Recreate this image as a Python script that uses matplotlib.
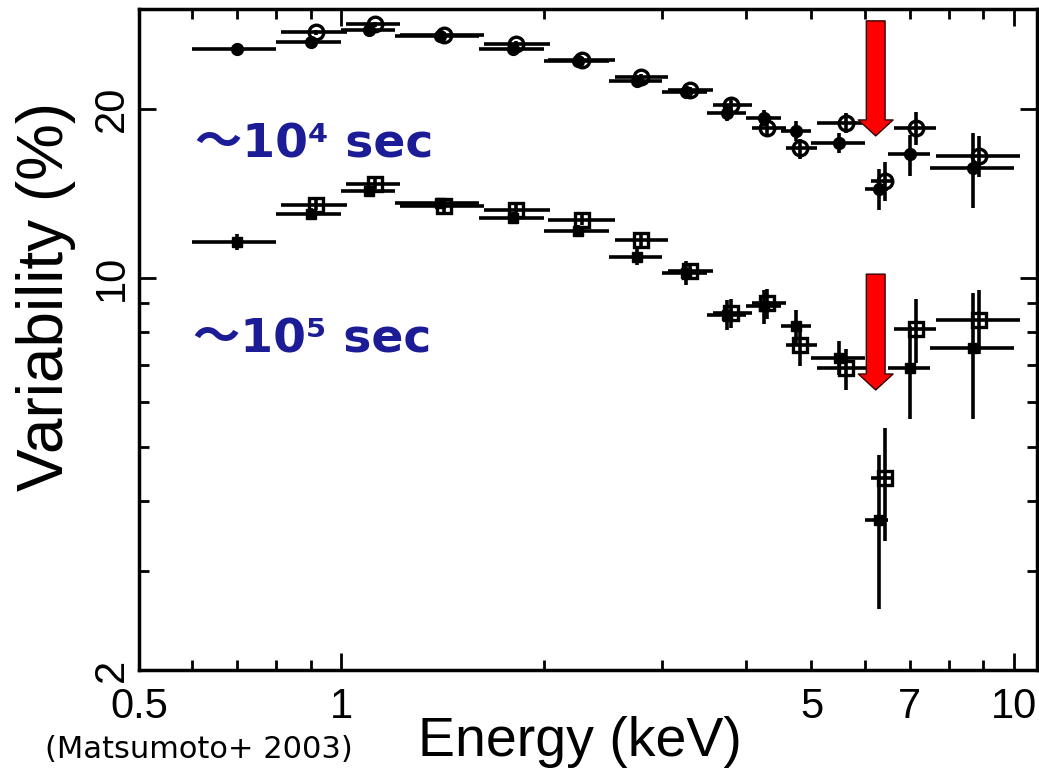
import matplotlib
matplotlib.use("Agg")
import matplotlib.pyplot as plt

# energy bins (keV) for the filled points
e_mid = [0.7, 0.9, 1.1, 1.4, 1.8, 2.25, 2.75, 3.25, 3.75, 4.25, 4.75, 5.5, 6.3, 7.0, 8.7]
e_lo = [0.6, 0.8, 1.0, 1.2, 1.6, 2.0, 2.5, 3.0, 3.5, 4.0, 4.5, 5.0, 6.0, 6.5, 7.5]
e_hi = [0.8, 1.0, 1.2, 1.6, 2.0, 2.5, 3.0, 3.5, 4.0, 4.5, 5.0, 6.0, 6.5, 7.5, 10.0]

# energy bins for the open points (slightly shifted, no 0.7 keV bin)
o_mid = [0.915, 1.12, 1.42, 1.82, 2.28, 2.79, 3.30, 3.80, 4.30, 4.80, 5.62, 6.43, 7.15, 8.87]
o_lo = [0.814, 1.014, 1.22, 1.63, 2.03, 2.55, 3.06, 3.57, 4.08, 4.59, 5.10, 6.12, 6.63, 7.65]
o_hi = [1.02, 1.22, 1.63, 2.04, 2.55, 3.06, 3.57, 4.08, 4.59, 5.10, 6.12, 6.63, 7.65, 10.2]

# ~1e4 sec variability (%)
var4_fill = [25.6, 26.3, 27.7, 27.0, 25.6, 24.3, 22.4, 21.4, 19.7, 19.3, 18.3, 17.4, 14.4, 16.6, 15.7]
err4_fill = [0.3, 0.3, 0.3, 0.3, 0.3, 0.3, 0.3, 0.35, 0.65, 0.64, 0.76, 0.72, 1.2, 1.4, 2.4]
var4_open = [27.4, 28.3, 27.1, 26.1, 24.4, 22.8, 21.6, 20.3, 18.5, 17.0, 18.9, 14.9, 18.5, 16.5]
err4_open = [0.3, 0.3, 0.3, 0.3, 0.3, 0.3, 0.3, 0.68, 0.7, 0.7, 0.8, 1.2, 1.25, 1.4]

# ~1e5 sec variability (%)
var5_fill = [11.6, 13.0, 14.3, 13.6, 12.8, 12.1, 10.9, 10.2, 8.6, 8.9, 8.2, 7.2, 3.7, 6.9, 7.5]
err5_fill = [0.38, 0.3, 0.3, 0.3, 0.3, 0.3, 0.36, 0.5, 0.53, 0.62, 0.57, 0.5, 1.13, 1.3, 1.9]
var5_open = [13.5, 14.7, 13.4, 13.2, 12.7, 11.7, 10.3, 8.65, 9.0, 7.6, 6.9, 4.4, 8.1, 8.4]
err5_open = [0.3, 0.3, 0.3, 0.3, 0.3, 0.3, 0.3, 0.5, 0.55, 0.65, 0.58, 1.0, 1.05, 1.1]

# red arrows (x, y_start, y_end)
arrow_x = 6.23
arrow_top = (28.7, 17.9)
arrow_bot = (10.15, 6.31)

fig = plt.figure(figsize=(10.39, 7.73), dpi=100)
ax = fig.add_axes([0.1338, 0.1333, 0.8642, 0.8547])
ax.set_xscale("log")
ax.set_yscale("log")


def xerr_of(mid, lo, hi):
    return [[m - l for m, l in zip(mid, lo)], [h - m for m, h in zip(mid, hi)]]


ebar = dict(ecolor="black", elinewidth=2.6, capsize=0, linestyle="none")

ax.errorbar(e_mid, var4_fill, yerr=err4_fill, xerr=xerr_of(e_mid, e_lo, e_hi),
            fmt="o", ms=8.5, mfc="black", mec="black", **ebar)
ax.errorbar(o_mid, var4_open, yerr=err4_open, xerr=xerr_of(o_mid, o_lo, o_hi),
            fmt="o", ms=10.5, mfc="none", mec="black", mew=2.4, **ebar)
ax.errorbar(e_mid, var5_fill, yerr=err5_fill, xerr=xerr_of(e_mid, e_lo, e_hi),
            fmt="s", ms=7.5, mfc="black", mec="black", **ebar)
ax.errorbar(o_mid, var5_open, yerr=err5_open, xerr=xerr_of(o_mid, o_lo, o_hi),
            fmt="s", ms=10.5, mfc="none", mec="black", mew=2.4, **ebar)

for y0, y1 in (arrow_top, arrow_bot):
    ax.annotate("", xy=(arrow_x, y1), xytext=(arrow_x, y0),
                arrowprops=dict(arrowstyle="simple,head_length=1.15,head_width=2.5,tail_width=1.35",
                                fc="red", ec="#300000", lw=1, shrinkA=0, shrinkB=0,
                                mutation_scale=10),
                zorder=5)

ax.set_xlim(0.5, 10.82)
ax.set_ylim(2, 30.1)

font = ["Liberation Sans", "DejaVu Sans"]
ax.set_xticks([1, 10])
ax.set_xticklabels(["1", "10"])
ax.set_xticks([0.5, 0.6, 0.7, 0.8, 0.9, 2, 3, 4, 5, 6, 7, 8, 9], minor=True)
ax.set_xticklabels(["0.5", "", "", "", "", "", "", "", "5", "", "7", "", ""], minor=True)
ax.set_yticks([2, 10, 20])
ax.set_yticklabels(["2", "10", "20"])
ax.set_yticks([3, 4, 5, 6, 7, 8, 9], minor=True)
ax.set_yticklabels([], minor=True)

for lab in ax.get_xticklabels(which="both"):
    lab.set_fontfamily(font)
    lab.set_fontsize(30)
for lab in ax.get_yticklabels():
    lab.set_fontfamily(font)
    lab.set_fontsize(30)
    lab.set_rotation(90)
    lab.set_va("center")

ax.tick_params(which="both", direction="in", top=True, right=True, width=2)
ax.tick_params(which="major", length=12)
ax.tick_params(which="minor", length=7)
ax.tick_params(axis="x", which="both", pad=12)
ax.tick_params(axis="y", which="both", pad=5)
for s in ax.spines.values():
    s.set_linewidth(2.5)

ax.set_xlabel("Energy (keV)", fontfamily=font, fontsize=40)
ax.xaxis.set_label_coords(0.491, -0.07)
ax.set_ylabel("Variability (%)", fontfamily=font, fontsize=46)
ax.yaxis.set_label_coords(-0.07, 0.565)

navy = "#1c1c96"
tag_font = ["DejaVu Sans", "Noto Sans CJK JP"]
ax.text(0.062, 0.794, "～10⁴ sec", transform=ax.transAxes, color=navy,
        fontsize=34, fontweight="bold", fontfamily=tag_font, va="center")
ax.text(0.060, 0.499, "～10⁵ sec", transform=ax.transAxes, color=navy,
        fontsize=34, fontweight="bold", fontfamily=tag_font, va="center")

fig.text(45 / 1039, 1 - 750 / 773, "(Matsumoto+ 2003)", fontsize=22,
         fontfamily="DejaVu Sans", va="center", ha="left")

fig.savefig("out.png", dpi=100)
